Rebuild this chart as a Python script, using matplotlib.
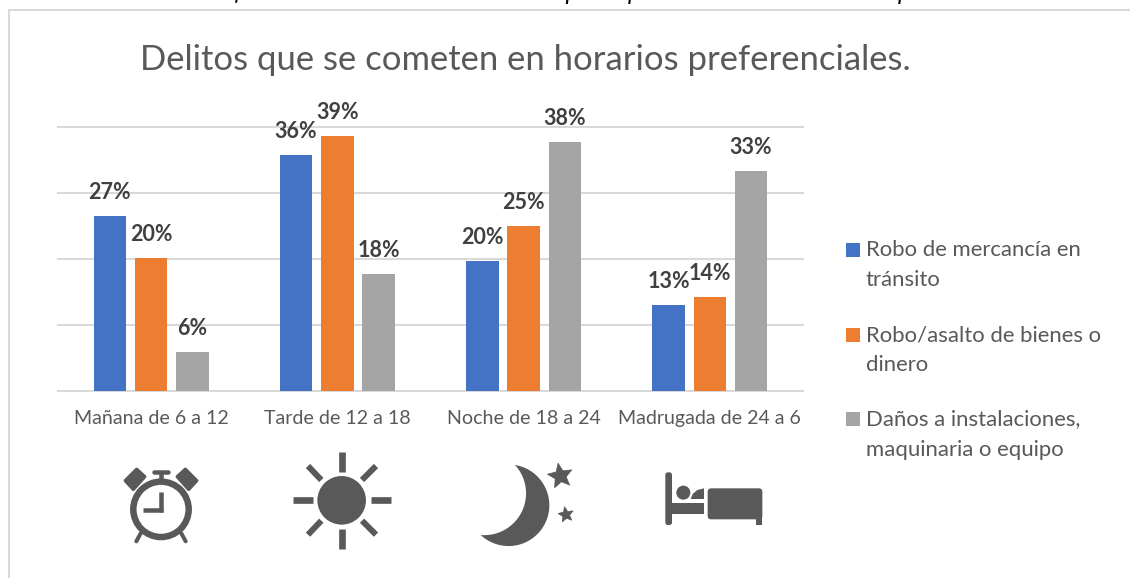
import numpy as np
import matplotlib
matplotlib.use("Agg")
import matplotlib.pyplot as plt
from matplotlib.patches import Circle, FancyBboxPatch, Polygon, Rectangle

W, H = 1130, 578
plt.rcParams['font.family'] = ['Lato', 'DejaVu Sans']

categories = ["Mañana de 6 a 12", "Tarde de 12 a 18", "Noche de 18 a 24", "Madrugada de 24 a 6"]
robo_mercancia = [26.6, 35.8, 19.7, 13.0]
robo_bienes = [20.2, 38.7, 25.0, 14.2]
danos = [5.9, 17.8, 37.7, 33.4]
labels_mercancia = ["27%", "36%", "20%", "13%"]
labels_bienes = ["20%", "39%", "25%", "14%"]
labels_danos = ["6%", "18%", "38%", "33%"]
series_names = ["Robo de mercancía en\ntránsito", "Robo/asalto de bienes o\ndinero",
                "Daños a instalaciones,\nmaquinaria o equipo"]
colors = ["#4472C4", "#ED7D31", "#A5A5A5"]
title = "Delitos que se cometen en horarios preferenciales."
y_ticks = [0, 10, 20, 30, 40]

fig = plt.figure(figsize=(W / 100, H / 100), dpi=100, facecolor="white")
TEXT = "#595959"
DARK = "#404040"
ICON = "#595959"

# main axes: pixel box x 58..803, y 127.3..391
ax = fig.add_axes([58 / W, 1 - 391 / H, (803 - 58) / W, (391 - 127.3) / H])
x = np.arange(len(categories))
width, step = 0.175, 0.2215
rows = [(robo_mercancia, labels_mercancia), (robo_bienes, labels_bienes), (danos, labels_danos)]
for i, (vals, labs) in enumerate(rows):
    xs = x + (i - 1) * step
    ax.bar(xs, vals, width, color=colors[i], zorder=3)
    for xx, v, lab in zip(xs, vals, labs):
        ax.annotate(lab, (xx, v), xytext=(0, 17), textcoords="offset points", ha="center", va="center",
                    fontsize=15.5, fontweight="bold", color=DARK, zorder=5, annotation_clip=False)
ax.set_xlim(-0.5, 3.5)
ax.set_ylim(0, 40)
ax.set_yticks(y_ticks)
ax.set_yticklabels([])
ax.set_xticks(x)
ax.set_xticklabels(categories, fontsize=14.1, color=TEXT)
ax.tick_params(length=0, pad=14)
ax.grid(axis="y", color="#D9D9D9", lw=1.5, zorder=0)
for gl in ax.get_ygridlines():
    gl.set_clip_on(False)
ax.set_axisbelow(True)
for s in ax.spines.values():
    s.set_visible(False)

# overlay in pixel coordinates
ov = fig.add_axes([0, 0, 1, 1], zorder=10)
ov.set_xlim(0, W)
ov.set_ylim(H, 0)
ov.axis("off")
ov.patch.set_alpha(0)

# frame
ov.plot([9, 9, W], [H, 10, 10], color="#D9D9D9", lw=1.5, solid_joinstyle="miter")

# clipped caption at the very top
ov.text(575, 0.5, "Gráfica 5. Estado de horarios en los que se presentan delitos en mi empresa", ha="center",
        va="baseline", fontsize=17.5, style="italic", color="#000000", clip_on=True)

ov.text(525.5, 60, title, ha="center", va="center", fontsize=24.9, color=TEXT)

# legend
for name, c, yy in zip(series_names, colors, [250, 334.5, 419]):
    ov.add_patch(Rectangle((846, yy - 7), 14, 14, color=c, lw=0))
    first, second = name.split("\n")
    ov.text(866, yy + 0.5, first, va="center", ha="left", fontsize=15.9, color=TEXT)
    ov.text(866, yy + 30.5, second, va="center", ha="left", fontsize=15.9, color=TEXT)


def a(px, py):  # clock/sun crop to pixels
    return (90 + px / 3, 430 + py / 3)


def b(px, py):  # moon/bed crop to pixels
    return (460 + px / 3, 430 + py / 3)


def seg(p, q, w, cap="butt"):
    ov.plot([p[0], q[0]], [p[1], q[1]], color=ICON, lw=w * 0.72, solid_capstyle=cap)


# alarm clock
cx, cy = a(213, 238)
ov.add_patch(Circle((cx, cy), 27.7, fill=False, ec=ICON, lw=6.5 * 0.72))
seg(a(213, 186), a(213, 245), 4.5)
seg(a(160, 239), a(218, 239), 4.5)
seg(a(192, 126), a(234, 126), 4.5, "round")
seg(a(213, 126), a(213, 150), 4.5)
ov.add_patch(Polygon([a(106, 152), a(140, 118), a(164, 140), a(130, 178)], fc=ICON, ec=ICON, lw=2.5, joinstyle="round"))
ov.add_patch(Polygon([a(320, 152), a(286, 118), a(262, 140), a(296, 178)], fc=ICON, ec=ICON, lw=2.5, joinstyle="round"))
seg(a(152, 310), a(139, 334), 4, "round")
seg(a(274, 310), a(287, 334), 4, "round")

# sun
ov.add_patch(Circle(a(755, 211), 24.3, color=ICON, lw=0))
for p, q in [((755, 67), (755, 125)), ((755, 297), (755, 356)), ((609, 211), (668, 211)), ((843, 211), (903, 211)),
             ((654, 108), (694, 150)), ((858, 108), (816, 150)), ((654, 314), (694, 272)), ((858, 314), (816, 272))]:
    seg(a(*p), a(*q), 20 / 3 if p[0] in (755,) or p[1] == 211 else 18 / 3)


# moon
def circle3(p1, p2, p3):
    A = np.array([[p2[0] - p1[0], p2[1] - p1[1]], [p3[0] - p1[0], p3[1] - p1[1]]], float) * 2
    B = np.array([p2[0] ** 2 - p1[0] ** 2 + p2[1] ** 2 - p1[1] ** 2, p3[0] ** 2 - p1[0] ** 2 + p3[1] ** 2 - p1[1] ** 2], float)
    c = np.linalg.solve(A, B)
    return c, np.hypot(*(np.array(p1) - c))


tip1, tip2 = (165, 105), (62, 315)
co, ro = circle3(tip1, (268, 225), tip2)
ci, ri = circle3(tip1, (198, 195), tip2)
a1 = np.arctan2(tip1[1] - co[1], tip1[0] - co[0])
a2 = np.arctan2(tip2[1] - co[1], tip2[0] - co[0])
t = np.linspace(a1, a2 if a2 > a1 else a2 + 2 * np.pi, 80)
outer = np.c_[co[0] + ro * np.cos(t), co[1] + ro * np.sin(t)]
b1 = np.arctan2(tip2[1] - ci[1], tip2[0] - ci[0])
b2 = np.arctan2(tip1[1] - ci[1], tip1[0] - ci[0])
if b2 > b1:
    b2 -= 2 * np.pi
t = np.linspace(b1, b2, 80)
inner = np.c_[ci[0] + ri * np.cos(t), ci[1] + ri * np.sin(t)]
ov.add_patch(Polygon([b(*p) for p in np.r_[outer, inner]], color=ICON, lw=0))


def star(c, R, rot):
    pts = []
    for k in range(10):
        r = R if k % 2 == 0 else R * 0.45
        ang = np.deg2rad(rot - 90 + 36 * k)
        pts.append(b(c[0] + r * np.cos(ang), c[1] + r * np.sin(ang)))
    ov.add_patch(Polygon(pts, color=ICON, lw=0.5, joinstyle="round"))


star((301, 138), 39, -10)
star((318, 254), 24, -10)


# bed
def rrect(p0, p1, rad):
    x0, y0 = b(*p0)
    x1, y1 = b(*p1)
    ov.add_patch(FancyBboxPatch((x0 + rad, y0 + rad), x1 - x0 - 2 * rad, y1 - y0 - 2 * rad,
                                boxstyle=f"round,pad={rad}", color=ICON, lw=0))


rrect((616, 127), (636, 285), 2.5)
ov.add_patch(Rectangle(b(636, 218), (732 - 636) / 3, (251 - 218) / 3, color=ICON, lw=0))
ov.add_patch(Circle(b(670, 188), 7, color=ICON, lw=0))
ov.add_patch(Polygon([b(692, 207), b(698, 192), b(712, 180), b(732, 175), b(732, 207)], color=ICON, lw=0))
rrect((743, 175), (907, 268), 3.5)
ov.add_patch(Rectangle(b(887, 260), 20 / 3, 25 / 3, color=ICON, lw=0))

fig.savefig("out.png", dpi=100)
